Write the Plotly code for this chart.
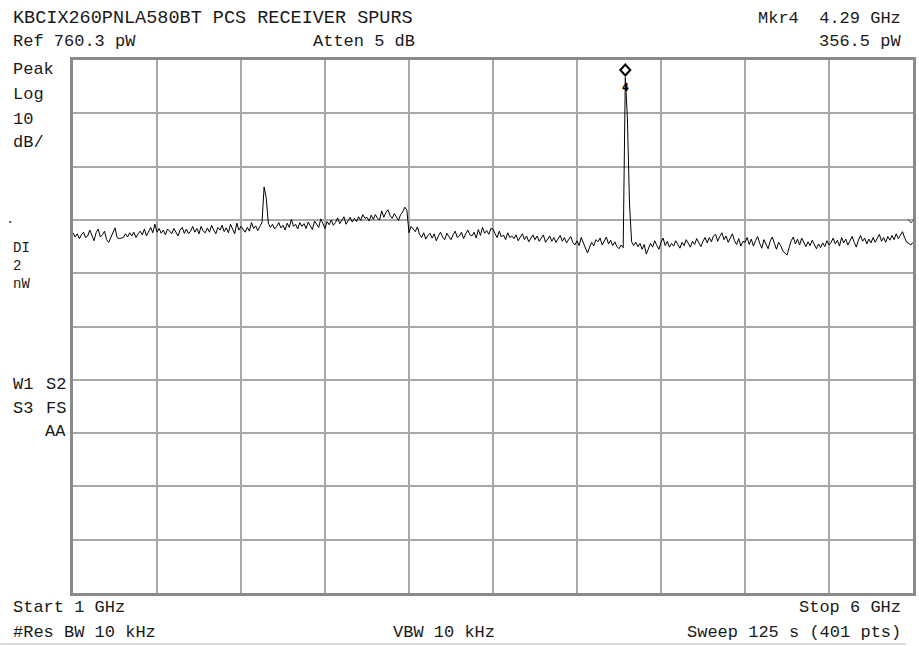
import numpy as np
import plotly.graph_objects as go

# Sweep settings
START_GHZ = 1.0
STOP_GHZ = 6.0
N_PTS = 401
REF_DBM = -61.19          # 760.3 pW reference level
DB_PER_DIV = 10
N_DIV = 10

# Trace amplitude (dBm), one value per sweep point, split by span region
seg_a = [  # 1.00 - 1.4875 GHz
    -93.6, -94.4, -93.8, -94.7, -94.0, -93.5, -94.5, -94.2, -93.1, -94.0,
    -95.1, -93.6, -92.9, -94.4, -94.0, -93.3, -94.9, -95.4, -94.5, -93.3,
    -92.7, -94.5, -94.7, -94.6, -94.5, -93.8, -94.4, -93.6, -94.2, -93.5,
    -94.5, -93.8, -93.3, -94.0, -92.9, -94.2, -93.5, -92.6, -93.6, -92.0,
]
seg_b = [  # 1.50 - 2.125 GHz
    -93.5, -92.8, -93.7, -93.1, -94.0, -92.9, -93.3, -93.8, -92.8, -93.5,
    -94.2, -93.1, -92.6, -93.7, -92.9, -93.8, -93.3, -92.4, -93.5, -92.8,
    -93.8, -92.4, -93.3, -93.6, -92.7, -93.5, -92.2, -93.1, -93.8, -92.6,
    -93.1, -92.2, -93.4, -92.7, -93.6, -92.0, -92.9, -93.8, -91.8, -93.1,
    -92.4, -93.0, -93.5, -92.6, -93.3, -91.7, -92.8, -92.3, -93.2, -92.4,
    -91.7,
]
spur_2g = [-85.0, -87.0]  # 2.1375 GHz spur
seg_c = [  # 2.1625 - 2.9875 GHz
    -91.8, -92.6, -92.0, -92.9, -92.4, -91.7, -92.7,
    -92.2, -93.1, -91.8, -92.6, -91.1, -92.4, -92.0, -92.9, -91.7, -92.4,
    -91.9, -92.8, -91.6, -92.3, -93.0, -91.4, -92.1, -92.6, -91.0, -91.9,
    -92.8, -91.5, -92.1, -91.2, -92.2, -91.7, -90.8, -91.9, -91.3, -90.6,
    -92.0, -91.3, -90.7, -91.6, -90.9, -91.5, -90.6, -91.3, -90.2, -90.9,
    -90.7, -91.4, -90.3, -91.1, -90.2, -90.9, -91.2, -89.5, -90.7, -89.8,
    -89.3, -90.4, -90.9, -90.0, -90.7, -91.3, -90.2, -89.7, -88.8, -89.4,
]
seg_d = [  # 3.00 - 4.275 GHz
    -93.6, -92.4, -92.9, -93.4, -92.5, -93.9, -94.5, -93.6, -94.8, -94.1,
    -93.7, -94.6, -93.8, -95.1, -94.2, -93.5, -94.4, -94.9, -93.7, -94.2,
    -94.9, -94.0, -93.3, -94.5, -94.2, -93.5, -94.7, -93.8, -93.1, -94.0,
    -94.2, -93.5, -94.6, -93.0, -94.1, -92.6, -93.7, -93.2, -93.9, -92.8,
    -92.9, -93.8, -94.5, -93.3, -94.4, -94.0, -94.9, -93.6, -94.5, -94.2,
    -94.7, -94.0, -95.1, -94.4, -93.8, -94.9, -94.2, -95.3, -94.5, -94.0,
    -94.9, -94.2, -95.2, -94.5, -94.0, -95.4, -94.7, -94.2, -95.2, -94.5,
    -95.4, -94.6, -94.1, -95.2, -94.5, -95.5, -94.8, -94.3, -95.4, -95.9,
    -95.1, -96.0, -94.5, -95.6, -96.7, -97.4, -96.3, -95.4, -96.1, -94.9,
    -95.3, -94.6, -95.9, -95.1, -94.4, -95.7, -95.0, -96.0, -95.3, -96.2,
    -96.6, -95.9, -96.4,
]
spur_4g = [-64.48, -72.1, -88.2]  # 4.2875 GHz spur (marker 4)
seg_e = [  # 4.325 - 6.00 GHz
    -95.3, -96.0, -95.4, -96.2, -95.6, -96.7, -95.8, -97.6, -96.5, -95.6,
    -96.3, -95.1, -96.0, -96.7, -95.4, -94.6,
    -96.0, -95.2, -96.3, -95.6, -96.1, -95.1, -95.8, -96.5, -95.4, -96.0,
    -94.9, -95.6, -96.3, -95.2, -95.8, -94.7, -95.5, -96.2, -95.2, -94.5,
    -95.5, -94.5, -95.3, -94.2,
    -93.9, -95.2, -94.3, -93.6, -94.9, -94.2, -95.4, -94.5, -93.8, -95.1,
    -95.8, -94.7, -96.1, -95.2,
    -95.4, -94.5, -95.8, -94.8, -96.1, -95.1, -94.3, -95.6, -96.5, -94.9,
    -95.7, -96.6, -95.2, -94.4, -95.6, -96.7, -95.4, -96.0, -97.0, -97.4,
    -97.8,
    -96.4, -95.1, -94.4, -95.7, -94.8, -95.9, -94.6, -95.5, -96.2, -95.3,
    -96.0, -95.0, -95.9, -96.6, -95.7, -96.4, -95.5, -96.2, -95.1, -95.9,
    -95.4, -94.6, -95.7, -95.0, -96.1, -94.5, -95.5, -94.8, -95.9, -95.2,
    -94.3, -95.4, -96.3, -95.0, -94.1, -95.2, -94.6, -95.7, -94.8, -95.5,
    -94.5, -95.4,
    -94.7, -93.9, -95.2, -94.5, -95.4, -94.3, -95.0, -94.1, -94.9, -93.8,
    -94.7, -93.9, -93.4, -94.5, -95.4, -95.6, -95.9, -95.4,
]

trace_dbm = seg_a + seg_b + spur_2g + seg_c + seg_d + spur_4g + seg_e
freq_ghz = np.linspace(START_GHZ, STOP_GHZ, N_PTS)
assert len(trace_dbm) == N_PTS

MKR_INDEX = len(seg_a) + len(seg_b) + len(spur_2g) + len(seg_c) + len(seg_d)
mkr_freq = freq_ghz[MKR_INDEX]
mkr_dbm = trace_dbm[MKR_INDEX]

# Screen text
title_txt = "KBCIX260PNLA580BT PCS RECEIVER SPURS"
ref_txt = "Ref 760.3 pW"
atten_txt = "Atten 5 dB"
mkr_txt = "Mkr4\u00a0\u00a04.29 GHz"
mkr_val_txt = "356.5 pW"
scale_labels = [("Peak", 70), ("Log", 94), ("10", 119), ("dB/", 142)]
dl_label = "DI<br>2<br>nW"
status_left = [("W1", 384), ("S3", 408)]
status_right = [("S2", 384), ("FS", 408), ("AA", 432)]
start_txt = "Start 1 GHz"
stop_txt = "Stop 6 GHz"
rbw_txt = "#Res BW 10 kHz"
vbw_txt = "VBW 10 kHz"
sweep_txt = "Sweep 125 s (401 pts)"

W, H = 919, 646
L, R, T, B = 73, 916, 60, 593
FONT = "Liberation Mono, DejaVu Sans Mono, monospace"
TXT_COLOR = "#1a1a1a"


def px(x):
    return (x - L) / (R - L)


def py(y):
    return (B - y) / (B - T)


fig = go.Figure()
fig.add_trace(go.Scatter(
    x=freq_ghz, y=trace_dbm, mode="lines",
    line=dict(color="black", width=1), hoverinfo="skip", showlegend=False,
))

annotations = []


def label(text, x, y, xanchor="left", size=17, align="left"):
    annotations.append(dict(
        text=text, x=px(x), y=py(y), xref="paper", yref="paper",
        xanchor=xanchor, yanchor="middle", showarrow=False, align=align,
        font=dict(family=FONT, size=size, color=TXT_COLOR),
    ))


label(title_txt, 11, 18, size=18.5)
label(ref_txt, 11, 42)
label(atten_txt, 365, 42, xanchor="center")
label(mkr_txt, 906, 18, xanchor="right")
label(mkr_val_txt, 906, 42, xanchor="right")
for t, y in scale_labels:
    label(t, 11, y)
label(dl_label, 11, 266, size=14)
for t, y in status_left:
    label(t, 11, y)
for t, y in status_right:
    label(t, 68, y, xanchor="right")
label(start_txt, 11, 607)
label(stop_txt, 906, 607, xanchor="right")
label(rbw_txt, 11, 632)
label(vbw_txt, 445, 632, xanchor="center")
label(sweep_txt, 906, 632, xanchor="right")

# Marker number under the marker diamond
annotations.append(dict(
    text="<b>4</b>", x=mkr_freq, y=mkr_dbm, xref="x", yref="y",
    yshift=-10, showarrow=False,
    font=dict(family="DejaVu Sans, sans-serif", size=10, color="black"),
))


def ppath(points):
    return "M " + " L ".join(f"{px(x):.5f},{py(y):.5f}" for x, y in points)


shapes = [
    # marker diamond sitting on the peak
    dict(type="path", xref="x", yref="y", xsizemode="pixel", ysizemode="pixel",
         xanchor=mkr_freq, yanchor=mkr_dbm,
         path="M 0,2 L 5,7.5 L 0,13 L -5,7.5 Z",
         line=dict(color="black", width=2), fillcolor="white"),
    # rule along the bottom of the screen
    dict(type="line", xref="paper", yref="paper",
         x0=px(0), x1=px(909), y0=py(644), y1=py(644),
         line=dict(color="#b8b8b8", width=1)),
    # small dot at the left margin
    dict(type="rect", xref="paper", yref="paper",
         x0=px(9), x1=px(11), y0=py(221), y1=py(223),
         line=dict(width=0), fillcolor="#555555"),
    # small tick at the right edge
    dict(type="path", xref="paper", yref="paper",
         path=ppath([(911, 219), (914, 223), (917, 219)]),
         line=dict(color="#555555", width=1)),
]

grid = dict(showgrid=True, gridcolor="#a8a8a8", gridwidth=1.5,
            showticklabels=False, ticks="", zeroline=False,
            showline=True, linecolor="#8a8a8a", linewidth=3, mirror=True,
            fixedrange=True)

fig.update_layout(
    width=W, height=H,
    margin=dict(l=L, r=W - R, t=T, b=H - B, pad=0),
    paper_bgcolor="white", plot_bgcolor="white",
    xaxis=dict(range=[START_GHZ, STOP_GHZ], tick0=START_GHZ,
               dtick=(STOP_GHZ - START_GHZ) / 10, **grid),
    yaxis=dict(range=[REF_DBM - DB_PER_DIV * N_DIV, REF_DBM], tick0=REF_DBM,
               dtick=DB_PER_DIV, **grid),
    annotations=annotations, shapes=shapes,
    showlegend=False,
)

fig.write_html("out.html")
